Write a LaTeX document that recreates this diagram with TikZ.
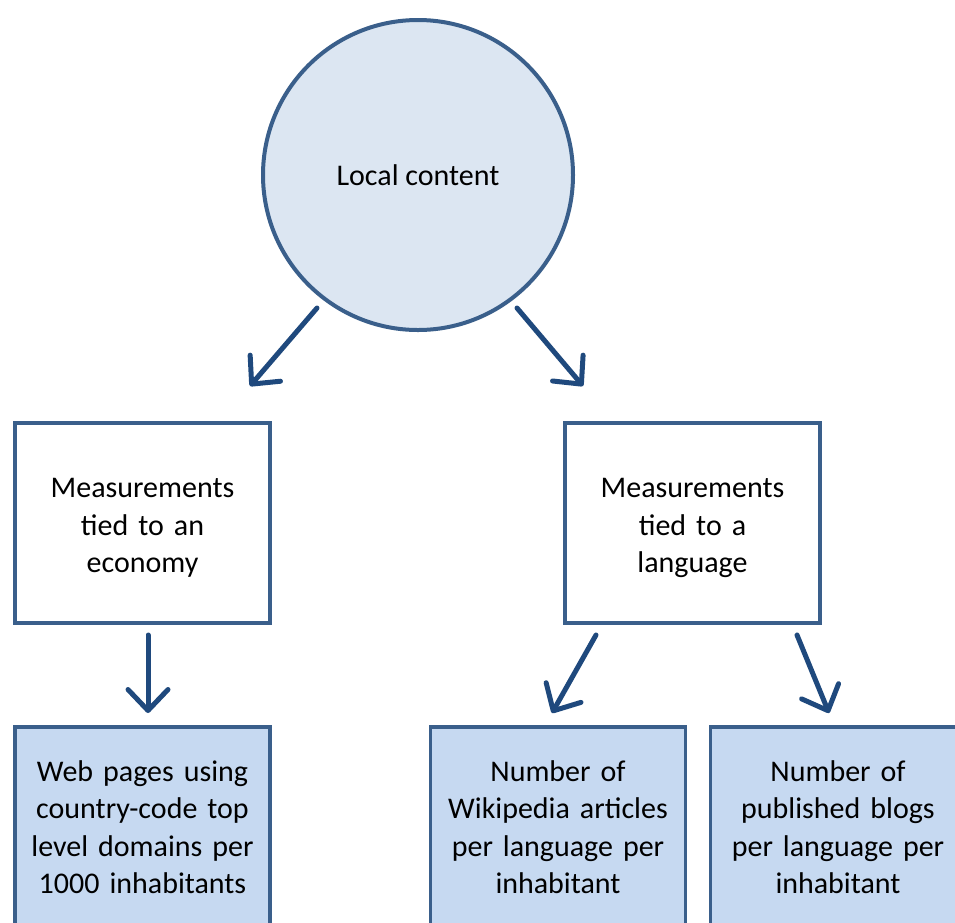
\documentclass[tikz,border=0pt]{standalone}
\usepackage{fontspec}
\setmainfont{Carlito}
\usetikzlibrary{arrows.meta}

\definecolor{rimblue}{HTML}{3A5F8B}
\definecolor{arrblue}{HTML}{1F497D}
\definecolor{paleblue}{HTML}{DCE6F2}
\definecolor{boxblue}{HTML}{C6D9F1}

% text set a little lower in its box
\newcommand{\dropped}[1]{\raisebox{-5pt}[\height][\depth]{\parbox{240pt}{\centering #1}}}

\tikzset{
	bigfont/.style={font=\fontsize{30pt}{37.5pt}\selectfont},
	measbox/.style={draw=rimblue, line width=3.5pt, fill=white, bigfont,
		minimum width=255pt, minimum height=200pt, text width=240pt,
		align=center, inner sep=0pt},
	databox/.style={measbox, fill=boxblue},
	arr/.style={arrblue, line width=5pt, line cap=round,
		-{Straight Barb[length=21pt, width=40pt, line cap=round, line join=round]}},
}

\begin{document}
\begin{tikzpicture}[x=1pt, y=-1pt]
				\useasboundingbox (0,0) rectangle (955,922);
				\clip (0,0) rectangle (955,922);

				% top circle
				\node[circle, draw=rimblue, fill=paleblue, line width=4pt, bigfont,
					minimum size=310pt, inner sep=0pt] (lc) at (418,175) {Local content};

				% middle row
				\node[measbox] (econ) at (142.5,523) {\dropped{Measurements\\tied to an\\economy}};
				\node[measbox] (lang) at (692.5,523) {\dropped{Measurements\\tied to a\\language}};

				% bottom row
				\node[databox] (ccTLD) at (142.5,827) {Web pages using\\country-code top\\level domains per\\1000 inhabitants};
				\node[databox] (wiki) at (558,827) {Number of\\Wikipedia articles\\per language per\\inhabitant};
				\node[databox] (blogs) at (838,827) {Number of\\published blogs\\per language per\\inhabitant};

				% arrow ends
				\coordinate (lc-l) at (317,308);
				\coordinate (lc-r) at (517,308);
				\coordinate (econ-in) at (250,386);
				\coordinate (lang-in) at (583,386);
				\coordinate (econ-out) at (148,635);
				\coordinate (ccTLD-in) at (148,713);
				\coordinate (lang-l) at (596,635);
				\coordinate (wiki-in) at (552,713);
				\coordinate (lang-r) at (797,635);
				\coordinate (blogs-in) at (829,713);

				\draw[arr] (lc-l) -- (econ-in);
				\draw[arr] (lc-r) -- (lang-in);
				\draw[arr] (econ-out) -- (ccTLD-in);
				\draw[arr] (lang-l) -- (wiki-in);
				\draw[arr] (lang-r) -- (blogs-in);
			\end{tikzpicture}
\end{document}
